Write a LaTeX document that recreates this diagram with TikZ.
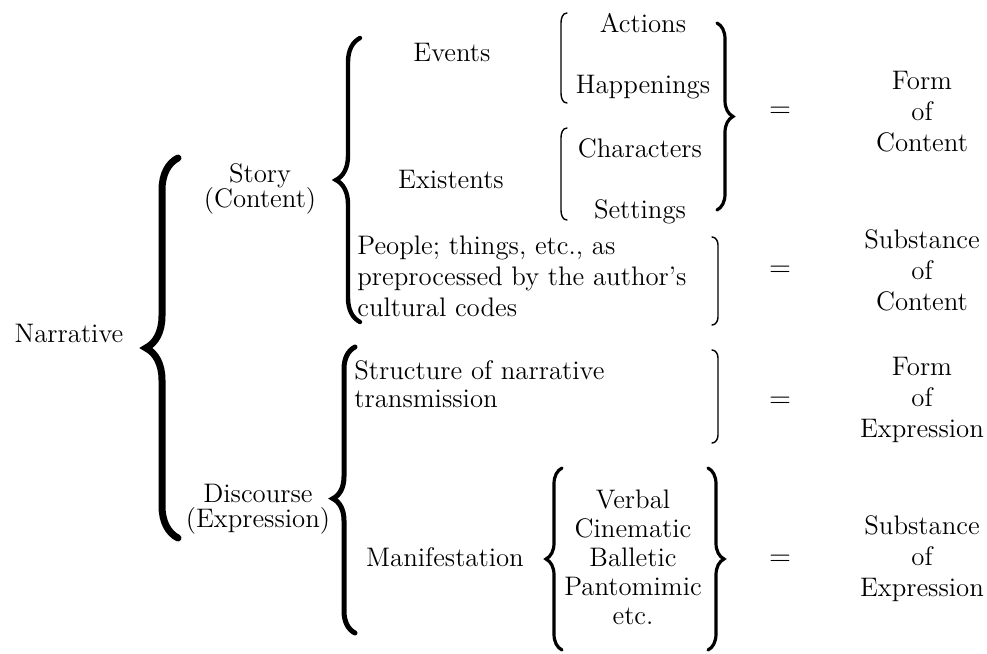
\documentclass[tikz,border=0pt]{standalone}
\usetikzlibrary{decorations.pathreplacing}
\setlength{\lineskiplimit}{-20pt}
\begin{document}
\begin{tikzpicture}[x=0.5pt,y=-0.5pt,
		lbl/.style={inner sep=0pt, align=center, font=\fontsize{13.4}{15.5}\selectfont},
		lbltight/.style={lbl, font=\fontsize{13.4}{12.5}\selectfont},
		lblleft/.style={lbl, align=left},
		brc/.style={decorate, decoration={brace, amplitude=#1}, line cap=round},
		hook/.style={line width=0.7pt, line cap=round}
		]
		\useasboundingbox (0,0) rectangle (987,654);
		
		\node[lbl](nar) at (69,333){Narrative};
		\node[lbltight](sto) at (260,189){Story\\(Content)};
		\node[lbltight](dis) at (258,509){Discourse\\(Expression)};
		
		\node[lbl](eve) at (452,53){Events};
		\node[lbl](exi) at (451,180){Existents};
		\node[lbl](act) at (643,23){Actions};
		\node[lbl](hap) at (643,87){Happenings};
		\node[lbl](cha) at (640,148){Characters};
		\node[lbl](set) at (640,212){Settings};
		\node[lblleft, anchor=west](peo) at (357,276){People; things, etc., as\\preprocessed by the author's\\cultural codes};
		\node[lblleft, anchor=west, font=\fontsize{13.4}{14}\selectfont](str) at (354,384){Structure of narrative\\transmission};
		\node[lbl](man) at (445,557){Manifestation};
		\node[lbl, font=\fontsize{13.4}{14.5}\selectfont](ver) at (633,557){Verbal\\Cinematic\\Balletic\\Pantomimic\\etc.};
		
		\node[lbl](eq1) at (780,112){$=$};
		\node[lbl](eq2) at (780,271){$=$};
		\node[lbl](eq3) at (780,402){$=$};
		\node[lbl](eq4) at (780,560){$=$};
		\node[lbl](fc) at (922,112){Form\\of\\Content};
		\node[lbl](sc) at (922,270){Substance\\of\\Content};
		\node[lbl](fe) at (922,400){Form\\of\\Expression};
		\node[lbl](se) at (922,559){Substance\\of\\Expression};
		
		\coordinate (nbT) at (178,158);
		\coordinate (nbB) at (178,538);
		\coordinate (sbT) at (360,38);
		\coordinate (sbB) at (360,322);
		\coordinate (dbT) at (355,347);
		\coordinate (dbB) at (355,633);
		\coordinate (cbT) at (717,23);
		\coordinate (cbB) at (717,210);
		\coordinate (vlT) at (562,468);
		\coordinate (vlB) at (562,650);
		\coordinate (vrT) at (708,468);
		\coordinate (vrB) at (708,650);
		
		\draw[brc=16pt, line width=3.5pt] (nbB) -- (nbT);
		\draw[brc=12pt, line width=2.2pt] (sbB) -- (sbT);
		\draw[brc=11pt, line width=2.5pt, decoration={aspect=0.47}] (dbB) -- (dbT);
		\draw[brc=8pt, line width=1.6pt] (cbT) -- (cbB);
		\draw[brc=8pt, line width=1.6pt] (vlB) -- (vlT);
		\draw[brc=8pt, line width=1.6pt] (vrT) -- (vrB);
		
		\draw[hook] (567,13) to[out=180,in=90] (561,23) -- (561,93) to[out=-90,in=180] (567,103);
		\draw[hook] (567,128) to[out=180,in=90] (561,138) -- (561,210) to[out=-90,in=180] (567,220);
		\draw[hook] (712,237) to[out=0,in=90] (718,245) -- (718,317) to[out=-90,in=0] (712,325);
		\draw[hook] (712,350) to[out=0,in=90] (718,358) -- (718,435) to[out=-90,in=0] (712,443);
	\end{tikzpicture}
\end{document}
